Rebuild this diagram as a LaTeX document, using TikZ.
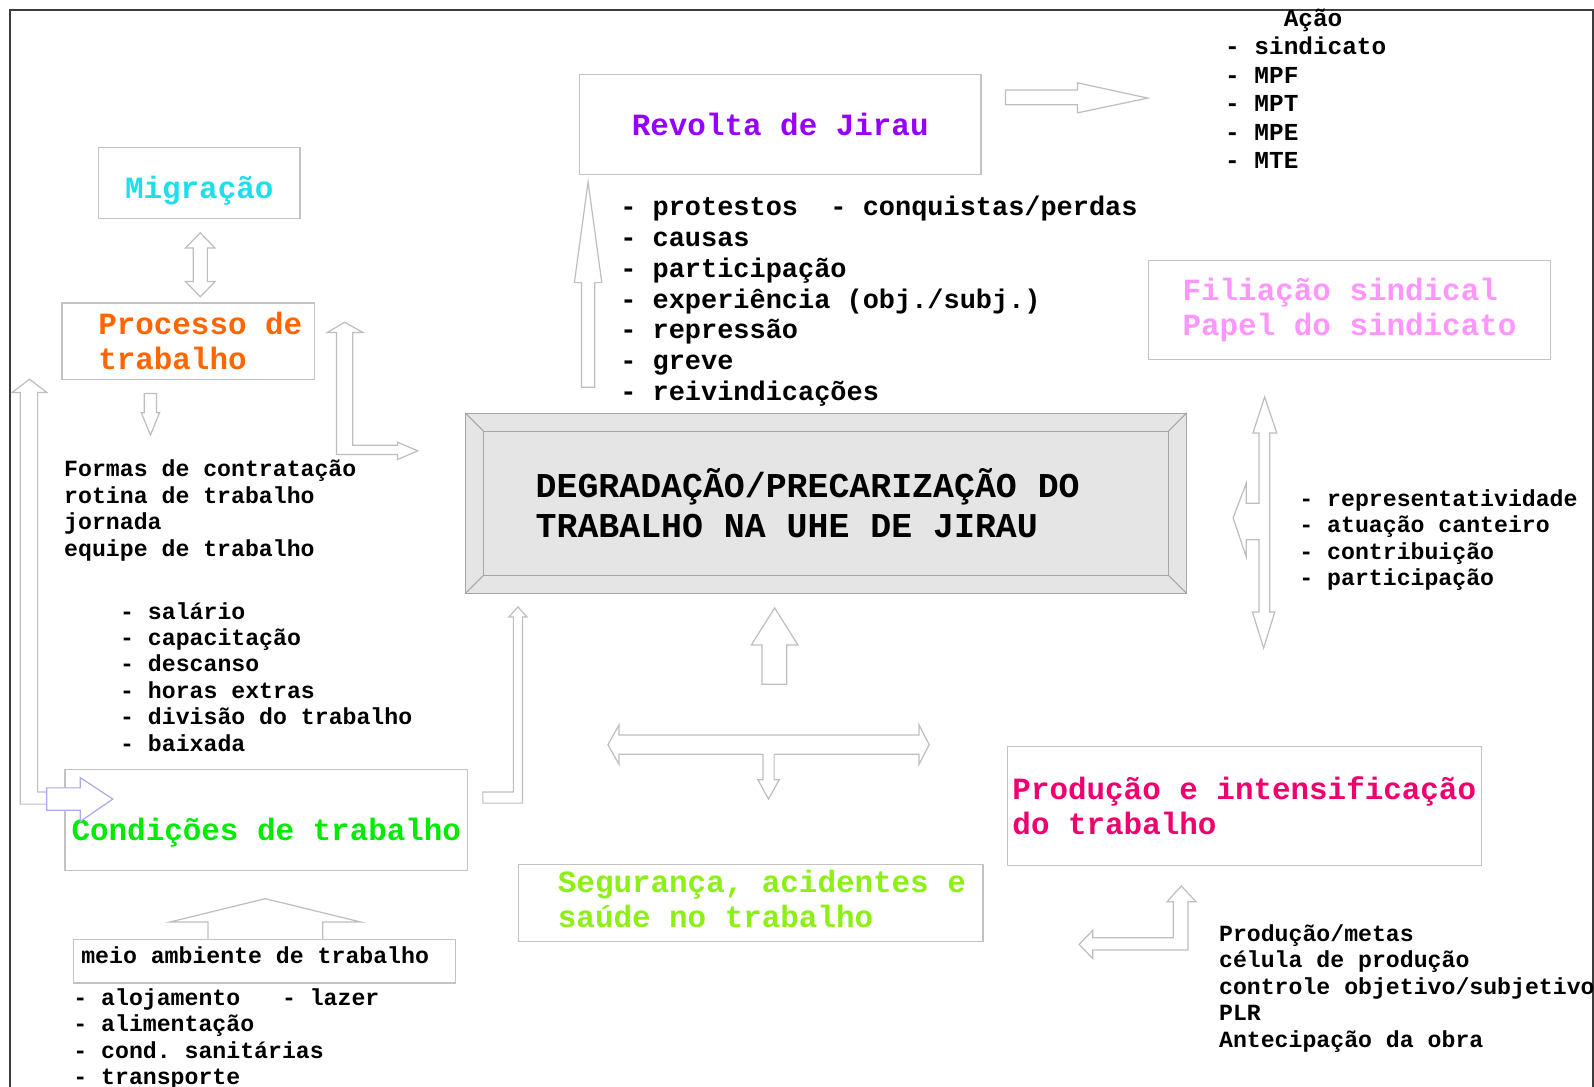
\documentclass[tikz,border=0pt]{standalone}
\usepackage{fontspec}
\setmonofont{Liberation Mono}
\usetikzlibrary{positioning}

\definecolor{migcyan}{RGB}{30,222,236}
\definecolor{procorange}{RGB}{255,102,0}
\definecolor{revpurple}{RGB}{150,0,255}
\definecolor{filpink}{RGB}{255,150,255}
\definecolor{condgreen}{RGB}{0,235,0}
\definecolor{segyellow}{RGB}{140,240,20}
\definecolor{prodmagenta}{RGB}{240,0,110}
\definecolor{arrowgray}{RGB}{190,190,190}
\definecolor{boxgray}{RGB}{195,195,195}
\definecolor{bluearrow}{RGB}{170,170,240}
\definecolor{framegray}{RGB}{60,60,60}

\tikzset{
  box/.style={draw=boxgray, line width=1.2pt, inner sep=4pt, align=left,
    font=\ttfamily\bfseries\fontsize{30.4}{34.5}\selectfont},
  listtext/.style={font=\ttfamily\bfseries\fontsize{22.8}{26}\selectfont,
    align=left, anchor=base west, inner sep=0pt},
  blockarrow/.style={draw=arrowgray, line width=1.2pt, fill=white},
  bevelline/.style={draw=gray!70, line width=1pt},
}

\begin{document}
\begin{tikzpicture}[x=1pt, y=-1pt]
\useasboundingbox (0,0) rectangle (1568,1069);
\draw[framegray, line width=1.5pt] (10,1069) -- (10,10) -- (1567,10) -- (1567,1069);

% caixas
\node (mig) [box, minimum width=198pt, minimum height=70pt, text=migcyan, text height=38pt, text depth=8pt] at (196,180) {Migração};
\node (proc) [box, minimum width=248pt, minimum height=75pt, text=procorange] at (185,335.5)
  {\hspace*{24pt}Processo de\\\hspace*{24pt}trabalho};
\node (revolta) [box, minimum width=395pt, minimum height=99pt, text=revpurple] at (767.5,122.5) {Revolta de Jirau};
\node (filiacao) [box, minimum width=395pt, minimum height=98pt, text=filpink] at (1327.5,305) {Filiação sindical\\Papel do sindicato};
\node (cond) [box, minimum width=396pt, minimum height=99pt, text=condgreen, text height=48pt, text depth=8pt] at (262,806.5) {Condições de trabalho};
\node (seg) [box, minimum width=457pt, minimum height=76pt, text=segyellow] at (738.5,888)
  {\hspace*{22pt}Segurança, acidentes e\\\hspace*{22pt}saúde no trabalho\vspace*{8pt}};
\node (prod) [box, minimum width=466pt, minimum height=117pt, text=prodmagenta] at (1224,792.5) {Produção e intensificação\\do trabalho};
\node (meio) [box, minimum width=376pt, minimum height=43pt, text height=17pt, text depth=12pt,
  font=\ttfamily\bfseries\fontsize{22.8}{26}\selectfont] at (260,945.5)
  {meio ambiente de trabalho\hspace*{18pt}};

% centro
\node (centro) [draw=gray!70, line width=1pt, fill=gray!20, minimum width=709pt, minimum height=177pt,
  align=left, font=\ttfamily\bfseries\fontsize{34.3}{40}\selectfont] at (812.5,495)
  {DEGRADAÇÃO/PRECARIZAÇÃO DO\hspace*{36pt}\\TRABALHO NA UHE DE JIRAU};
\draw[bevelline] ([shift={(18,18)}]centro.north west) rectangle ([shift={(-18,-18)}]centro.south east);
\draw[bevelline] (centro.north west) -- ++(18,18);
\draw[bevelline] (centro.north east) -- ++(-18,18);
\draw[bevelline] (centro.south west) -- ++(18,-18);
\draw[bevelline] (centro.south east) -- ++(-18,-18);

% listas
\node (acao) [listtext, font=\ttfamily\bfseries\fontsize{24}{28}\selectfont] at (1205,166)
  {\phantom{----}Ação\\- sindicato\\- MPF\\- MPT\\- MPE\\- MTE};
\node (protestos) [listtext, font=\ttfamily\bfseries\fontsize{26.5}{30.3}\selectfont] at (610,394)
  {- protestos\ \ - conquistas/perdas\\- causas\\- participação\\- experiência (obj./subj.)\\- repressão\\- greve\\- reivindicações};
\node (formas) [listtext] at (63,547) {Formas de contratação\\rotina de trabalho\\jornada\\equipe de trabalho};
\node (salario) [listtext] at (118,739) {- salário\\- capacitação\\- descanso\\- horas extras\\- divisão do trabalho\\- baixada};
\node (alojamento) [listtext] at (72,1067) {- alojamento\ \ \ - lazer\\- alimentação\\- cond. sanitárias\\- transporte};
\node (repres) [listtext] at (1278,576) {- representatividade\\- atuação canteiro\\- contribuição\\- participação};
\node (metas) [listtext] at (1199,1030) {Produção/metas\\célula de produção\\controle objetivo/subjetivo\\PLR\\Antecipação da obra};

% setas
\draw[blockarrow] (197,229) -- (211.5,244) -- (204,244) -- (204,277) -- (211.5,277) -- (197,292)
  -- (182.5,277) -- (190,277) -- (190,244) -- (182.5,244) -- cycle;
\draw[blockarrow] (142,387) -- (154,387) -- (154,406) -- (157,406) -- (148,428) -- (139,406) -- (142,406) -- cycle;
\draw[blockarrow] (339,317) -- (357,327) -- (347,327) -- (347,438) -- (391,438) -- (391,435) -- (411,443.5)
  -- (391,452) -- (391,447) -- (331,447) -- (331,327) -- (322,327) -- cycle;
\draw[blockarrow] (29,373) -- (46,386) -- (37,386) -- (37,779) -- (46,779) -- (46,791) -- (20,791)
  -- (20,386) -- (12,386) -- cycle;
\draw[blockarrow, draw=bluearrow] (46,775) -- (79,775) -- (79,765) -- (111,786) -- (79,808) -- (79,797) -- (46,797) -- cycle;
\draw[blockarrow] (475,779) -- (505,779) -- (505,607) -- (500.5,607) -- (509.5,597) -- (518.5,607) -- (514,607)
  -- (514,790) -- (475,790) -- cycle;
\draw[blockarrow] (572,381) -- (572,278) -- (565,278) -- (578.5,179) -- (592,278) -- (585,278) -- (585,381) -- cycle;
\draw[blockarrow] (989,88.5) -- (1060,88.5) -- (1060,81.5) -- (1129,96.5) -- (1060,111) -- (1060,103) -- (989,103) -- cycle;
\draw[blockarrow] (749.5,673) -- (749.5,634.5) -- (739,634.5) -- (762,598) -- (785,634.5) -- (774,634.5) -- (774,673) -- cycle;
\draw[blockarrow] (598,732.5) -- (609,713) -- (609,723) -- (904,723) -- (904,713) -- (914,732.5) -- (904,752)
  -- (904,742) -- (761.5,742) -- (761.5,767) -- (766.5,767) -- (756,786) -- (745.5,767) -- (750.5,767)
  -- (750.5,742) -- (609,742) -- (609,752) -- cycle;
\draw[blockarrow] (1244,390.5) -- (1256,426) -- (1249,426) -- (1249,602) -- (1254,602) -- (1243,637.5)
  -- (1232,602) -- (1238.5,602) -- (1238.5,531) -- (1226,531) -- (1226,548) -- (1213,509.5) -- (1226,475)
  -- (1226,495) -- (1238.5,495) -- (1238.5,426) -- (1232.5,426) -- cycle;
\draw[blockarrow] (1162,871.5) -- (1176.5,887) -- (1168.5,887) -- (1168.5,934.5) -- (1075,934.5) -- (1075,943)
  -- (1061.5,929) -- (1075,915) -- (1075,922.5) -- (1154,922.5) -- (1154,887) -- (1148,887) -- cycle;
\draw[blockarrow, fill=none] (204.5,924) -- (204.5,907) -- (167,907) -- (261,884) -- (355,907) -- (317.5,907) -- (317.5,924);
\end{tikzpicture}
\end{document}
